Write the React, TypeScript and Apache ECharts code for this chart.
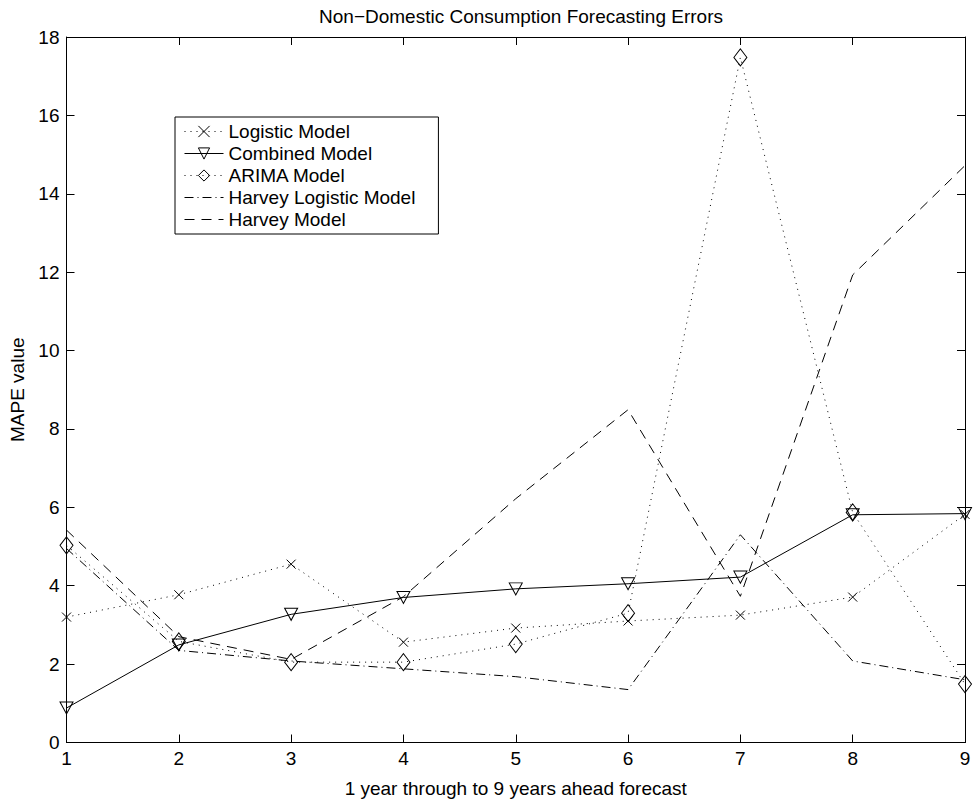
import React, { useEffect, useRef } from "react";
import * as echarts from "echarts";

const horizons = [1, 2, 3, 4, 5, 6, 7, 8, 9];
const logisticModel = [3.2, 3.77, 4.55, 2.56, 2.92, 3.1, 3.25, 3.71, 5.82];
const combinedModel = [0.88, 2.49, 3.27, 3.7, 3.92, 4.05, 4.22, 5.81, 5.84];
const arimaModel = [5.03, 2.58, 2.05, 2.05, 2.51, 3.3, 17.48, 5.87, 1.49];
const harveyLogisticModel = [4.95, 2.35, 2.08, 1.88, 1.68, 1.35, 5.3, 2.08, 1.6];
const harveyModel = [5.42, 2.7, 2.12, 3.72, 6.22, 8.49, 3.73, 11.93, 14.72];
const yTicks = [0, 2, 4, 6, 8, 10, 12, 14, 16, 18];

const FONT = "Liberation Sans, Arial, Helvetica, sans-serif";
const FS = 19;

const pairs = (vals: number[]) => horizons.map((h, i) => [h, vals[i]]);

export default function App() {
  const ref = useRef<HTMLDivElement>(null);
  useEffect(() => {
    if (!ref.current) return;
    const chart = echarts.init(ref.current, undefined, { renderer: "svg" });
    const axisCommon = {
      type: "value" as const,
      axisLine: { show: true, onZero: false, lineStyle: { color: "#000", width: 1 } },
      axisTick: { show: true, inside: true, length: 8, lineStyle: { color: "#000" } },
      splitLine: { show: false },
    };
    const mk = (
      name: string,
      vals: number[],
      lineType: any,
      symbol: string,
      size: any,
      hasMarker: boolean
    ) => ({
      name,
      type: "line",
      data: pairs(vals),
      xAxisIndex: 0,
      yAxisIndex: 0,
      symbol,
      symbolSize: size,
      showAllSymbol: true,
      lineStyle: { color: "#000", width: 1, type: lineType },
      itemStyle: {
        color: "transparent",
        borderColor: hasMarker ? "#000" : "rgba(0,0,0,0)",
        borderWidth: hasMarker ? 1 : 0,
        opacity: 1,
      },
      emphasis: { disabled: true },
    });
    chart.setOption({
      animation: false,
      backgroundColor: "#fff",
      textStyle: { fontFamily: FONT },
      title: {
        text: "Non\u2212Domestic Consumption Forecasting Errors",
        left: 516,
        top: 2,
        textAlign: "center",
        textStyle: { fontFamily: FONT, fontSize: FS, fontWeight: "normal", color: "#000" },
      },
      grid: { left: 66.5, right: 11, top: 37, bottom: 60.5 },
      legend: {
        orient: "vertical",
        left: 175,
        top: 117,
        padding: [5, 23, 5, 9],
        itemWidth: 39,
        itemHeight: 14,
        itemGap: 3,
        borderColor: "#000",
        borderWidth: 1,
        backgroundColor: "#fff",
        lineStyle: { width: 1 },
        itemStyle: { borderWidth: 1 },
        textStyle: { fontFamily: FONT, fontSize: FS, color: "#000" },
        data: [
          "Logistic Model",
          "Combined Model",
          "ARIMA Model",
          "Harvey Logistic Model",
          "Harvey Model",
        ],
      },
      xAxis: [
        {
          ...axisCommon,
          min: 1,
          max: 9,
          interval: 1,
          position: "bottom",
          name: "1 year through to 9 years ahead forecast",
          nameLocation: "middle",
          nameGap: 36,
          nameTextStyle: { fontFamily: FONT, fontSize: FS, color: "#000" },
          axisLabel: { fontFamily: FONT, fontSize: FS, color: "#000", margin: 6 },
        },
        {
          ...axisCommon,
          min: 1,
          max: 9,
          interval: 1,
          position: "top",
          axisLabel: { show: false },
        },
      ],
      yAxis: [
        {
          ...axisCommon,
          min: 0,
          max: 18,
          interval: 2,
          position: "left",
          name: "MAPE value",
          nameLocation: "middle",
          nameGap: 38,
          nameRotate: 90,
          nameTextStyle: { fontFamily: FONT, fontSize: FS, color: "#000" },
          axisLabel: {
            fontFamily: FONT,
            fontSize: FS,
            color: "#000",
            margin: 7,
            formatter: (v: number) => (yTicks.includes(v) ? String(v) : ""),
          },
        },
        {
          ...axisCommon,
          min: 0,
          max: 18,
          interval: 2,
          position: "right",
          axisLabel: { show: false },
        },
      ],
      series: [
        mk("Logistic Model", logisticModel, [1, 5], "path://M0,0L10,10M0,10L10,0", 9, true),
        mk("Combined Model", combinedModel, "solid", "path://M0,0L12,0L6,11Z", [13, 12], true),
        mk("ARIMA Model", arimaModel, [1, 5], "diamond", [13, 17], true),
        mk("Harvey Logistic Model", harveyLogisticModel, [9, 4, 1, 4], "path://M0,0L1,1", 1, false),
        mk("Harvey Model", harveyModel, [10, 7], "path://M0,0L1,1", 1, false),
      ],
    });
    return () => chart.dispose();
  }, []);
  return (
    <div
      ref={ref}
      style={{ position: "fixed", left: 0, top: 0, width: 976, height: 803, background: "#fff" }}
    />
  );
}
